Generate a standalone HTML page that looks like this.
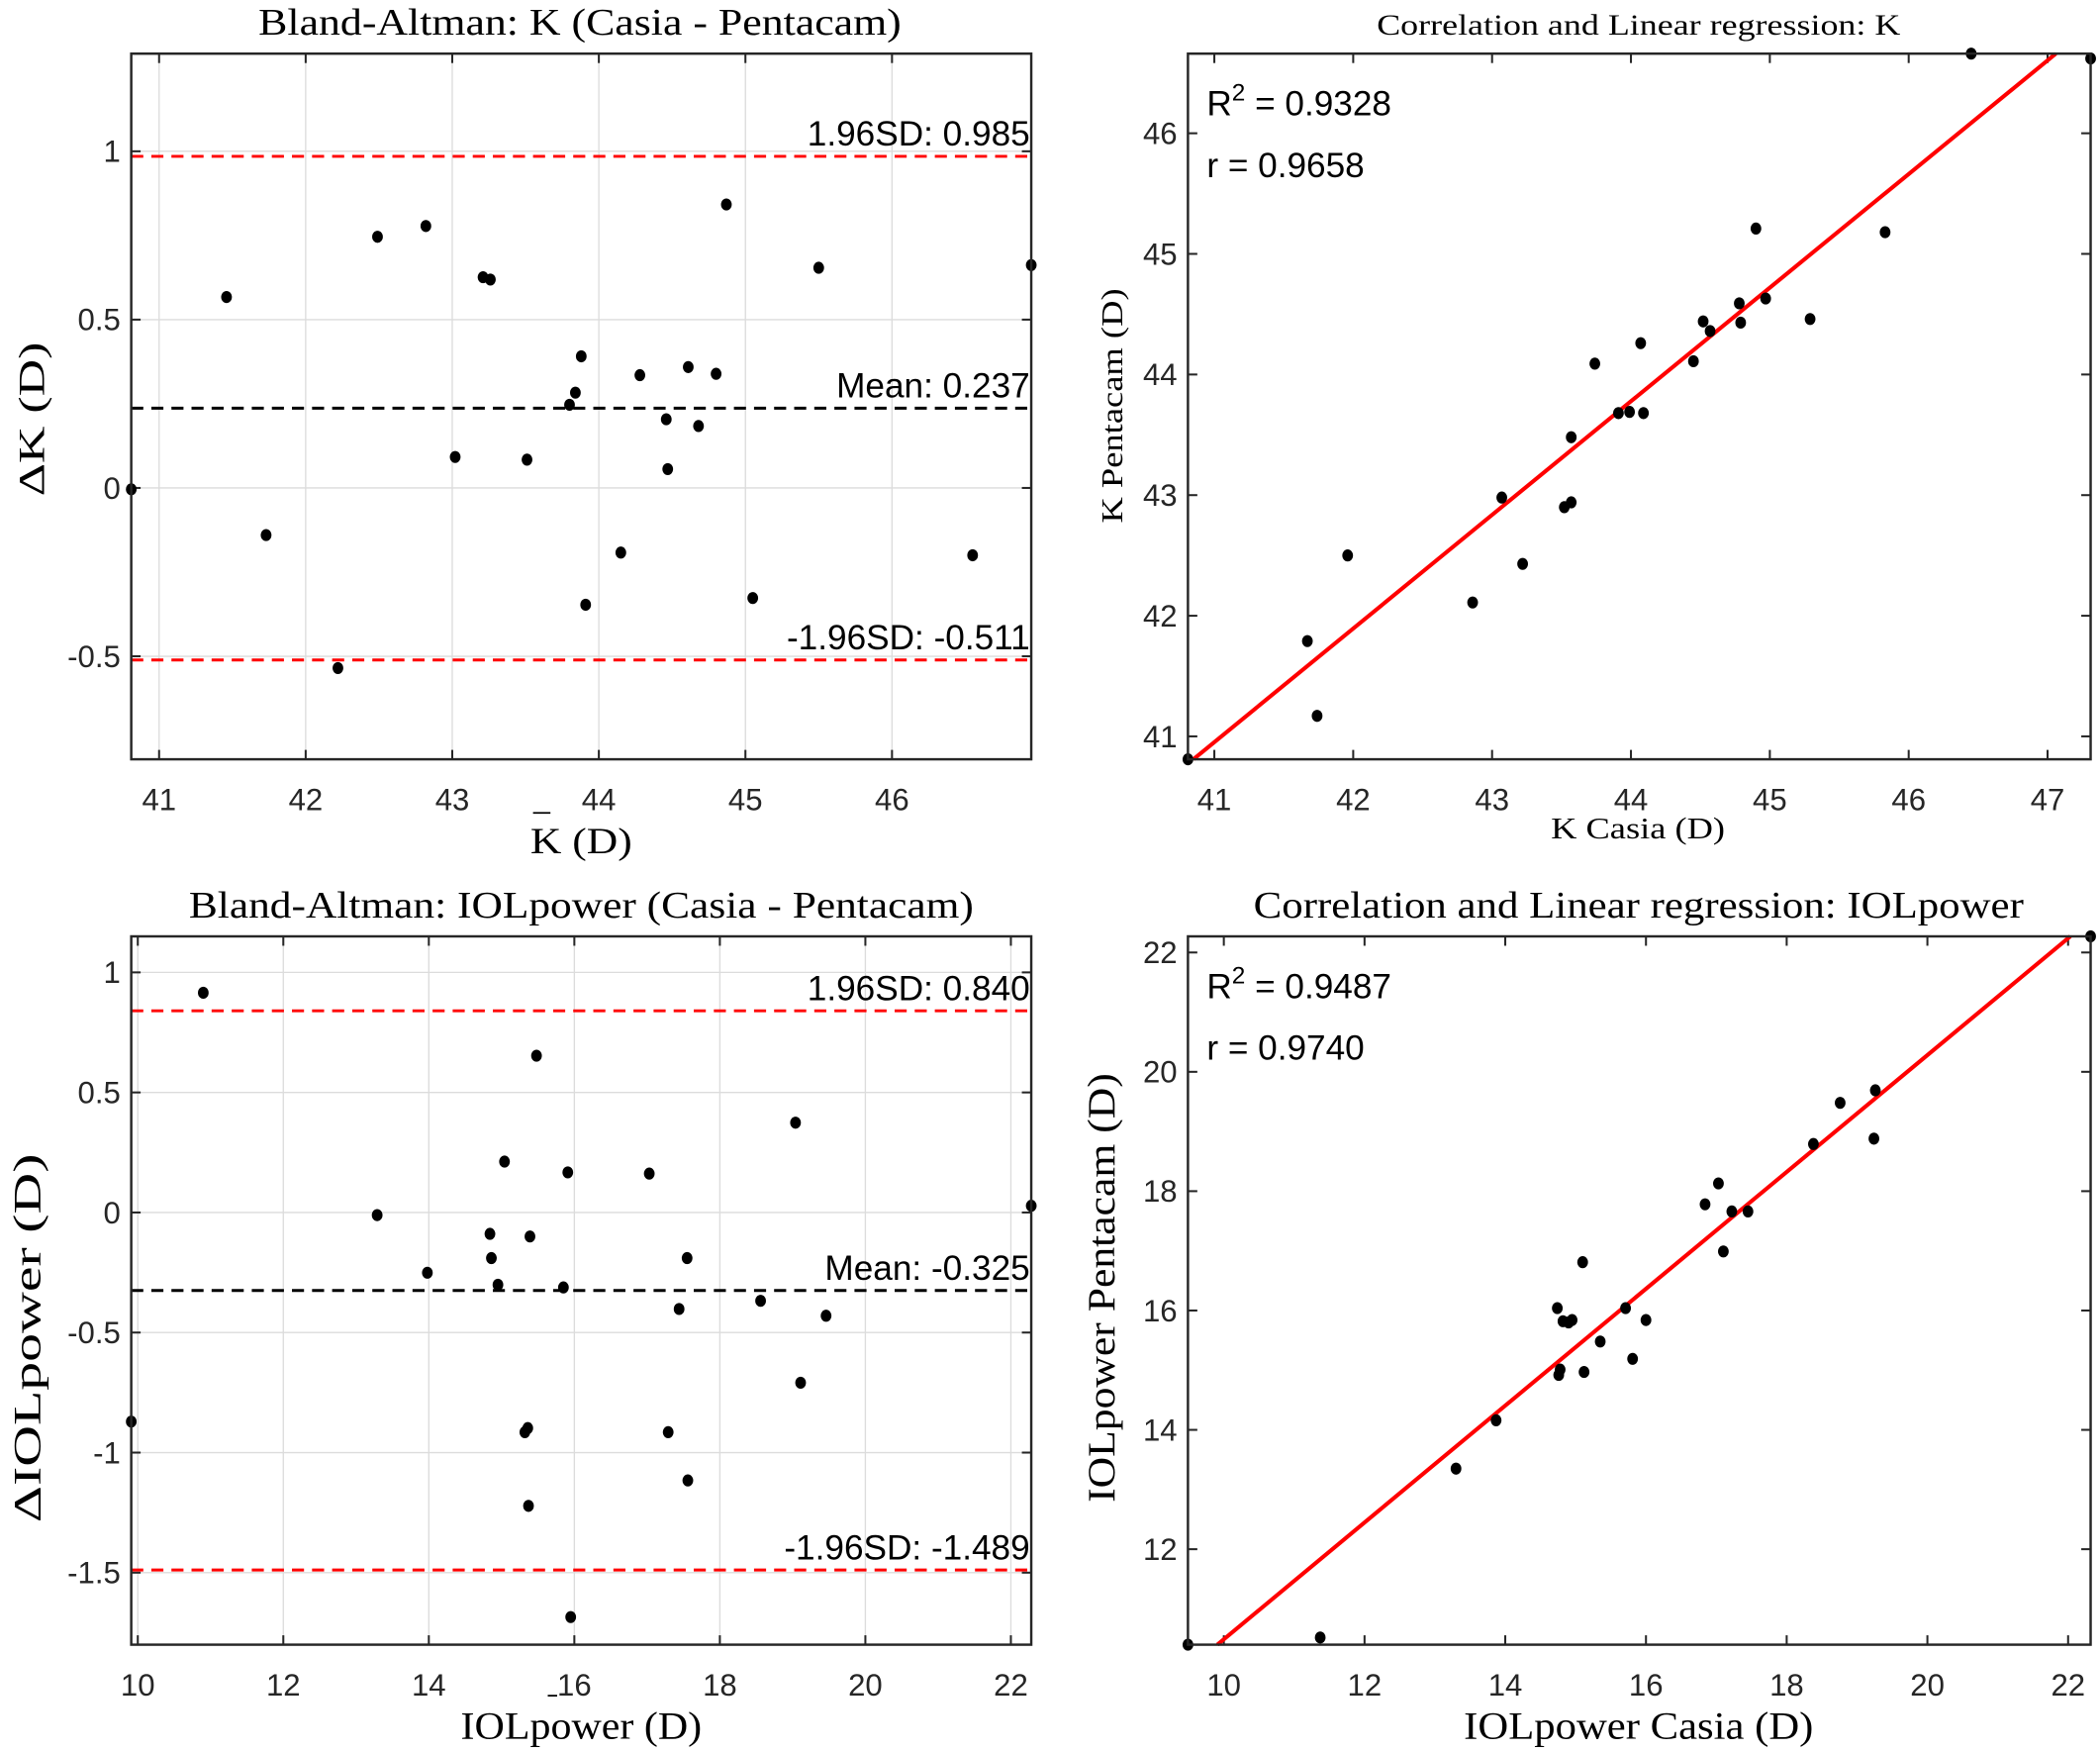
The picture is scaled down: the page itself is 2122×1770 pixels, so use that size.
<!DOCTYPE html>
<html><head><meta charset="utf-8"><style>
html,body{margin:0;padding:0;background:#fff}
svg{display:block}
.tk{font-family:"Liberation Sans",sans-serif;font-size:23px;fill:#262626}
.ser{font-family:"Liberation Serif",serif;fill:#000}
.ann{font-family:"Liberation Sans",sans-serif;font-size:26px;fill:#000}
</style></head><body>
<svg id="fig" width="2122" height="1770" viewBox="0 0 1568 1306" preserveAspectRatio="none" xmlns="http://www.w3.org/2000/svg"></svg>
<script>
// Panel 1: Bland-Altman K
const kMeanX=[40.81,41.46,41.73,42.22,42.49,42.82,43.02,43.21,43.26,43.51,43.80,43.84,43.88,43.91,44.15,44.28,44.46,44.47,44.61,44.68,44.80,44.87,45.05,45.50,46.55,46.95];
const kDiff=[-0.004,0.567,-0.14,-0.535,0.746,0.778,0.092,0.626,0.619,0.084,0.247,0.283,0.391,-0.347,-0.192,0.335,0.204,0.056,0.359,0.184,0.339,0.842,-0.327,0.654,-0.2,0.662];
const kLimits=[0.985,0.237,-0.511];
const kLimitLabels=["1.96SD: 0.985","Mean: 0.237","-1.96SD: -0.511"];
const p1XTicks=[41,42,43,44,45,46];
const p1YTicks=[-0.5,0,0.5,1];
const p1YTickLabels=["-0.5","0","0.5","1"];
// Panel 2: Correlation K
const kCasia=[40.81,41.67,41.74,41.96,42.86,43.07,43.22,43.52,43.57,43.57,43.74,43.91,43.99,44.07,44.09,44.45,44.52,44.57,44.78,44.79,44.90,44.97,45.29,45.83,46.45,47.31];
const kPenta=[40.81,41.79,41.17,42.5,42.11,42.98,42.43,42.9,42.94,43.48,44.09,43.68,43.69,44.26,43.68,44.11,44.44,44.36,44.59,44.43,45.21,44.63,44.46,45.18,46.66,46.62];
const kFit=[0.942,2.33];
const p2XTicks=[41,42,43,44,45,46,47];
const p2YTicks=[41,42,43,44,45,46];
// Panel 3: Bland-Altman IOL
const iolMeanX=[9.91,10.90,13.29,13.98,14.84,14.86,14.95,15.04,15.32,15.36,15.37,15.39,15.48,15.85,15.91,15.95,17.03,17.29,17.44,17.55,17.56,18.56,19.04,19.11,19.46,22.28];
const iolDiff=[-0.871,0.915,-0.011,-0.251,-0.089,-0.19,-0.301,0.212,-0.915,-0.898,-1.222,-0.1,0.653,-0.312,0.167,-1.685,0.162,-0.915,-0.402,-0.19,-1.116,-0.368,0.374,-0.709,-0.43,0.028];
const iolLimits=[0.840,-0.325,-1.489];
const iolLimitLabels=["1.96SD: 0.840","Mean: -0.325","-1.96SD: -1.489"];
const p3XTicks=[10,12,14,16,18,20,22];
const p3YTicks=[-1.5,-1,-0.5,0,0.5,1];
const p3YTickLabels=["-1.5","-1","-0.5","0","0.5","1"];
// Panel 4: Correlation IOL
const iolCasia=[9.49,11.37,13.30,13.87,14.76,14.78,14.74,14.82,14.90,14.95,15.12,15.10,15.35,15.71,15.81,16.00,16.84,17.03,17.10,17.22,17.45,18.38,18.76,19.24,19.26,22.32];
const iolPenta=[10.40,10.52,13.35,14.16,14.92,15.01,16.04,15.82,15.80,15.84,14.97,16.81,15.48,16.04,15.19,15.84,17.78,18.13,16.99,17.66,17.66,18.79,19.48,18.88,19.69,22.27];
const iolFit=[0.979,0.70];
const p4XTicks=[10,12,14,16,18,20,22];
const p4YTicks=[12,14,16,18,20,22];

const NS="http://www.w3.org/2000/svg";
const svg=document.getElementById('fig');
function mk(tag,attrs,parent){const e=document.createElementNS(NS,tag);for(const k in attrs)e.setAttribute(k,attrs[k]);(parent||svg).appendChild(e);return e;}
function txt(s,attrs,parent){const e=mk('text',attrs,parent);e.textContent=s;return e;}

function panel(o){
  const g=mk('g',{});
  
  
  const sx=v=>o.L+(v-o.x0)/(o.x1-o.x0)*(o.R-o.L);
  const sy=v=>o.B-(v-o.y0)/(o.y1-o.y0)*(o.B-o.T);
  if(o.grid){
    o.xt.forEach(v=>{const l=mk('line',{x1:sx(v),x2:sx(v),y1:o.T,y2:o.B,stroke:'#dcdcdc','stroke-width':1},g);});
    o.yt.forEach(v=>{const l=mk('line',{x1:o.L,x2:o.R,y1:sy(v),y2:sy(v),stroke:'#dcdcdc','stroke-width':1},g);});
  }
  o.xt.forEach(v=>{
    mk('line',{x1:sx(v),x2:sx(v),y1:o.B,y2:o.B-7,stroke:'#262626','stroke-width':1.5},g);
    mk('line',{x1:sx(v),x2:sx(v),y1:o.T,y2:o.T+7,stroke:'#262626','stroke-width':1.5},g);
    const t=txt(String(v),{x:sx(v),y:o.B+38,'text-anchor':'middle',class:'tk'},g);
    
  });
  o.yt.forEach((v,i)=>{
    mk('line',{x1:o.L,x2:o.L+7,y1:sy(v),y2:sy(v),stroke:'#262626','stroke-width':1.5},g);
    mk('line',{x1:o.R,x2:o.R-7,y1:sy(v),y2:sy(v),stroke:'#262626','stroke-width':1.5},g);
    const t=txt(o.ytl?o.ytl[i]:String(v),{x:o.L-8,y:sy(v)+8,'text-anchor':'end',class:'tk'},g);
    
  });
  if(o.lims){
    o.lims.forEach((v,i)=>{
      const l=mk('line',{x1:o.L,x2:o.R,y1:sy(v),y2:sy(v),stroke:i==1?'#000':'#ff0000','stroke-width':2.2,'stroke-dasharray':'9,6'},g);
      
      const t=txt(o.limLabels[i],{x:o.R-1,y:sy(v)-8,'text-anchor':'end',class:'ann'},g);
      
    });
  }
  if(o.fit){
    let xa=o.x0,xb=o.x1;
    const ya=o.fit[0]*xa+o.fit[1],yb=o.fit[0]*xb+o.fit[1];
    if(ya<o.y0)xa=(o.y0-o.fit[1])/o.fit[0];
    if(yb>o.y1)xb=(o.y1-o.fit[1])/o.fit[0];
    const l=mk('line',{x1:sx(xa),y1:sy(o.fit[0]*xa+o.fit[1]),x2:sx(xb),y2:sy(o.fit[0]*xb+o.fit[1]),stroke:'#ff0000','stroke-width':3},g);
    
  }
  o.xs.forEach((x,i)=>{
    const c=mk('ellipse',{cx:sx(x),cy:sy(o.ys[i]),rx:4,ry:4.5,fill:'#000'},g);
    
  });
  const b=mk('rect',{x:o.L,y:o.T,width:o.R-o.L,height:o.B-o.T,fill:'none',stroke:'#262626','stroke-width':1.8},g);
  
  if(o.stats){
    const t1=txt('',{x:o.L+14,y:o.T+46,class:'ann'},g);
    t1.innerHTML='R<tspan dy="-11" font-size="18">2</tspan><tspan dy="11"> = '+o.stats[0]+'</tspan>';
    
    const t2=txt('r = '+o.stats[1],{x:o.L+14,y:o.T+92,class:'ann'},g);
    
  }
  const tt=txt(o.title,{x:o.tx[0],y:o.T-14,class:'ser','font-size':o.tfs,textLength:o.tx[1]-o.tx[0],lengthAdjust:'spacingAndGlyphs'},g);
  
  const xl=txt(o.xlabel,{x:o.xl[0],y:o.xly,class:'ser','font-size':o.lfs,textLength:o.xl[1]-o.xl[0],lengthAdjust:'spacingAndGlyphs'},g);
  
  if(o.bar){mk('line',{x1:o.bar[0],x2:o.bar[1],y1:o.bar[2],y2:o.bar[2],stroke:'#000','stroke-width':1.3},g);}
  const yl=txt(o.ylabel,{x:-(o.yl[1]-o.yl[0])/2,y:0,class:'ser','font-size':o.lfs,textLength:o.yl[1]-o.yl[0],lengthAdjust:'spacingAndGlyphs',transform:`translate(${o.ylx},${(o.yl[0]+o.yl[1])/2}) rotate(-90)`},g);
  
}

panel({name:'bland-altman-k',L:98,R:770,T:40,B:566,x0:40.81,x1:46.95,y0:-0.806,y1:1.29,xt:p1XTicks,yt:p1YTicks,ytl:p1YTickLabels,grid:true,
  lims:kLimits,limLabels:kLimitLabels,xs:kMeanX,ys:kDiff,title:'Bland-Altman: K (Casia - Pentacam)',tfs:28,tx:[193,673],xlabel:'K (D)',xl:[396,472],xly:636,lfs:27,bar:[398,411,606],ylabel:'ΔK (D)',yl:[255,370],ylx:33});
panel({name:'correlation-k',L:887,R:1561,T:40,B:566,x0:40.81,x1:47.31,y0:40.81,y1:46.66,xt:p2XTicks,yt:p2YTicks,grid:false,
  fit:kFit,stats:['0.9328','0.9658'],xs:kCasia,ys:kPenta,title:'Correlation and Linear regression: K',tfs:22,tx:[1028,1419],xlabel:'K Casia (D)',xl:[1158,1288],xly:625,lfs:23,ylabel:'K Pentacam (D)',yl:[215,390],ylx:838});
panel({name:'bland-altman-iolpower',L:98,R:770,T:698,B:1226,x0:9.91,x1:22.28,y0:-1.80,y1:1.15,xt:p3XTicks,yt:p3YTicks,ytl:p3YTickLabels,grid:true,
  lims:iolLimits,limLabels:iolLimitLabels,xs:iolMeanX,ys:iolDiff,title:'Bland-Altman: IOLpower (Casia - Pentacam)',tfs:28,tx:[141,727],xlabel:'IOLpower (D)',xl:[344,524],xly:1296,lfs:29,bar:[409,416,1264],ylabel:'ΔIOLpower (D)',yl:[860,1135],ylx:30});
panel({name:'correlation-iolpower',L:887,R:1561,T:698,B:1226,x0:9.49,x1:22.32,y0:10.40,y1:22.27,xt:p4XTicks,yt:p4YTicks,grid:false,
  fit:iolFit,stats:['0.9487','0.9740'],xs:iolCasia,ys:iolPenta,title:'Correlation and Linear regression: IOLpower',tfs:28,tx:[936,1511],xlabel:'IOLpower Casia (D)',xl:[1093,1354],xly:1296,lfs:29,ylabel:'IOLpower Pentacam (D)',yl:[800,1120],ylx:832});
</script>
</body></html>
